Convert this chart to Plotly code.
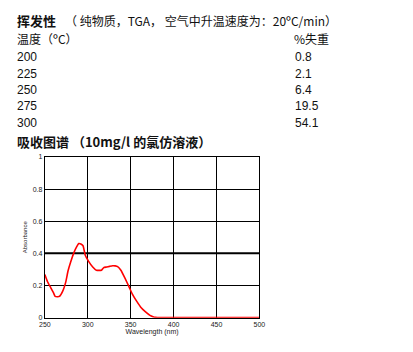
import plotly.graph_objects as go

# TGA table
temps = ["200", "225", "250", "275", "300"]
loss = ["0.8", "2.1", "6.4", "19.5", "54.1"]

# absorption spectrum (10mg/l in chloroform)
wavelength = [250, 253, 256.8, 260, 262, 265, 267, 270.7, 274.5, 277, 280, 284, 287, 289.6, 292,
              294.5, 297, 301, 305.8, 310, 316, 318.6, 322, 325.4, 329, 332, 334.8, 338.6, 343.5,
              348, 351.8, 357.5, 362.3, 367, 372.5, 376, 379, 385, 400, 450, 500]
absorbance = [0.268, 0.225, 0.187, 0.155, 0.132, 0.13, 0.132, 0.163, 0.224, 0.29, 0.345, 0.406, 0.44,
              0.461, 0.458, 0.447, 0.39, 0.35, 0.315, 0.295, 0.295, 0.311, 0.315, 0.319, 0.323, 0.322,
              0.317, 0.295, 0.244, 0.193, 0.148, 0.098, 0.061, 0.037, 0.014, 0.006, 0.002, 0.0, 0.0, 0.0, 0.0]

x_ticks = [250, 300, 350, 400, 450, 500]
y_ticks = [0, 0.2, 0.4, 0.6, 0.8, 1]
y_tick_text = ["0", "0.2", "0.4", "0.6", "0.8", "1"]
ref_line = 0.4

W, H = 413, 352
CJK = "Noto Sans CJK SC, Liberation Sans, sans-serif"
LAT = "Liberation Sans, Arial, sans-serif"

fig = go.Figure()
fig.add_trace(go.Scatter(x=wavelength, y=absorbance, mode="lines",
                         line=dict(color="#ff0000", width=1.6, shape="spline", smoothing=0.4),
                         hoverinfo="skip", showlegend=False))

fig.add_shape(type="line", xref="x", yref="y", x0=x_ticks[0], x1=x_ticks[-1], y0=ref_line, y1=ref_line,
              line=dict(color="black", width=2), layer="below")

def ann(text, px, py, size=12, bold=False, family=CJK, color="#111"):
    if bold:
        text = "<b>" + text + "</b>"
    fig.add_annotation(text=text, x=px / W, y=1 - py / H, xref="paper", yref="paper",
                       xanchor="left", yanchor="middle", showarrow=False, borderpad=0,
                       font=dict(size=size, family=family, color=color))

ann("挥发性", 10, 17, size=13, bold=True)
ann("（ 纯物质，TGA， 空气中升温速度为：20ºC/min）", 60, 17, size=12)
ann("温度（ºC）", 10, 35, size=12)
ann("%失重", 296, 35, size=12)
row_y = [54, 71, 88, 104, 121]
for t, l, yy in zip(temps, loss, row_y):
    ann(t, 10, yy, size=12, family=LAT)
    ann(l, 297, yy, size=12, family=LAT)
ann("吸收图谱 （10mg/l 的氯仿溶液）", 10, 140, size=13, bold=True)

fig.update_layout(
    width=W, height=H, margin=dict(l=0, r=0, t=0, b=0),
    paper_bgcolor="white", plot_bgcolor="white",
    xaxis=dict(domain=[40 / W, 261 / W], range=[250, 500], tickvals=x_ticks,
               ticktext=[str(v) for v in x_ticks],
               showgrid=True, gridcolor="black", gridwidth=1,
               showline=True, linecolor="black", linewidth=1, mirror=True,
               zeroline=False, ticks="", tickfont=dict(size=7, family=LAT, color="#222"),
               title=dict(text="Wavelength (nm)", font=dict(size=7, family=LAT, color="#222"),
                          standoff=2)),
    yaxis=dict(domain=[1 - 320 / H, 1 - 156 / H], range=[0, 1], tickvals=y_ticks, ticktext=y_tick_text,
               showgrid=True, gridcolor="black", gridwidth=1,
               showline=True, linecolor="black", linewidth=1, mirror=True,
               zeroline=True, zerolinecolor="black", zerolinewidth=2.5, ticks="",
               tickfont=dict(size=7, family=LAT, color="#222"),
               title=dict(text="Absorbance", font=dict(size=6, family=LAT, color="#222"),
                          standoff=4)),
)

fig.write_html("out.html")
